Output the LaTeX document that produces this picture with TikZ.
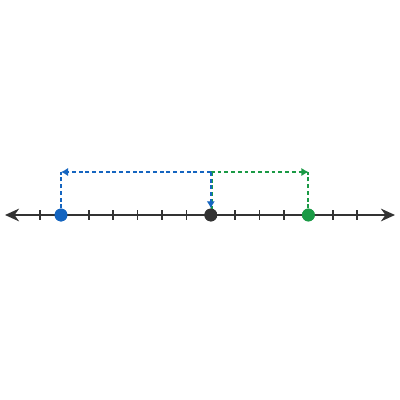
\documentclass[tikz,border=0pt]{standalone}
\usetikzlibrary{arrows.meta}
\definecolor{axiscol}{HTML}{333333}
\definecolor{bluecol}{HTML}{1565C0}
\definecolor{greencol}{HTML}{1A9A45}
\begin{document}
\begin{tikzpicture}[x=0.25mm,y=-0.25mm,>=latex,line join=bevel,
  axisline/.style={axiscol,line width=1.5pt,{Stealth[length=10pt,width=9pt]}-{Stealth[length=10pt,width=9pt]}},
  tickline/.style={axiscol,line width=1.1pt},
  dot/.style={circle,inner sep=0pt,minimum size=3.2mm},
  jumpline/.style={line width=1.3pt,dash pattern=on 2.8pt off 2pt},
  jumptip/.style={-{Latex[length=5pt,width=6pt]}}]
  \useasboundingbox[fill=white] (0,0) rectangle (400,400);
%%
  % Node: points on the line
  \node[dot,fill=bluecol] (start) at (61,215) {};
  \node[dot,fill=axiscol] (zero) at (210.8,215) {};
  \node[dot,fill=greencol] (finish) at (308.4,215) {};
  \coordinate (startTop) at (61,172);
  \coordinate (zeroTop) at (210.8,172);
  \coordinate (finishTop) at (308.4,172);
  \coordinate (zeroTopG) at (212,172);
  \coordinate (zeroG) at (212,209);
  % Edge: zero -> finish (green)
  \draw[jumpline,greencol] (finish) -- (finishTop);
  \draw[jumpline,greencol,jumptip] (zeroTop) -- (finishTop);
  \draw[jumpline,greencol] (zeroTopG) -- (zeroG);
  % Edge: zero -> start (blue)
  \draw[jumpline,bluecol] (start) -- (startTop);
  \draw[jumpline,bluecol,jumptip] (zeroTop) -- (startTop);
  \draw[jumpline,bluecol,jumptip] (zeroTop) -- (zero);
  % Axis and ticks
  \coordinate (axisL) at (5,215);
  \coordinate (axisR) at (395,215);
  \draw[axisline] (axisL) -- (axisR);
  \foreach \i in {0,...,13}
    \draw[tickline] (40+24.4*\i,210) -- (40+24.4*\i,220);
  % dots again on top
  \fill[bluecol] (start) circle (1.6mm);
  \fill[axiscol] (zero) circle (1.6mm);
  \fill[greencol] (finish) circle (1.6mm);
%
\end{tikzpicture}
\end{document}
